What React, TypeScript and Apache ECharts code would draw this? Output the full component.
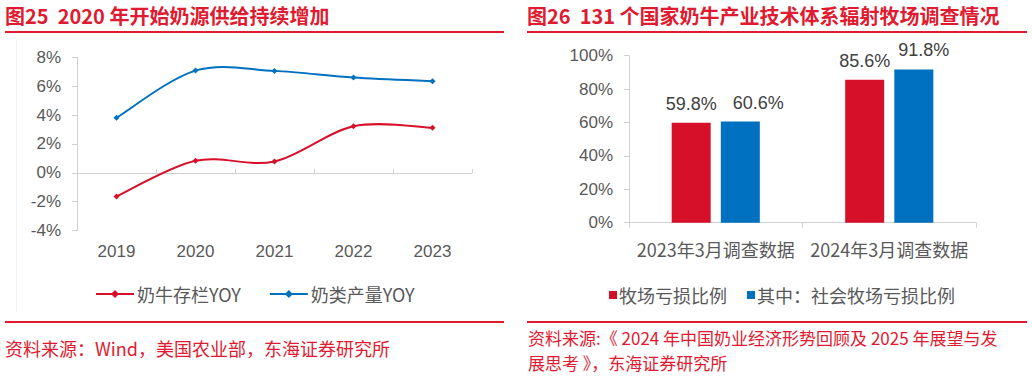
import React, { useEffect, useRef } from "react";
import * as echarts from "echarts";

const years = ["2019", "2020", "2021", "2022", "2023"];
const cattleYoy = [-1.64, 0.83, 0.79, 3.23, 3.12];
const milkYoy = [3.81, 7.08, 7.06, 6.6, 6.35];
const surveyCats = ["2023年3月调查数据", "2024年3月调查数据"];
const lossRatio = [59.8, 85.6];
const socialLossRatio = [60.6, 91.8];

const RED = "#d7102a";
const BLUE = "#0070c0";
const TITLE_RED = "#e01a30";
const GRAY_TEXT = "#595959";
const AXIS_GRAY = "#d0d0d0";
const FONT = "'Liberation Sans', Arial, 'Noto Sans CJK SC', sans-serif";
const CJK = "'Noto Sans CJK SC', 'Liberation Sans', sans-serif";

// Excel-like (Catmull-Rom) smoothed curve through the points, drawn via the axes' scale
function smoothCurve(values: number[], color: string) {
  return (params: any, api: any) => {
    if (params.dataIndex !== 0) return { type: "group", children: [] };
    const p = values.map((v, i) => api.coord([i, v]));
    let d = `M${p[0][0]},${p[0][1]}`;
    for (let i = 0; i < p.length - 1; i++) {
      const p0 = p[i - 1] || p[i];
      const p1 = p[i];
      const p2 = p[i + 1];
      const p3 = p[i + 2] || p[i + 1];
      const c1x = p1[0] + (p2[0] - p0[0]) / 6;
      const c1y = p1[1] + (p2[1] - p0[1]) / 6;
      const c2x = p2[0] - (p3[0] - p1[0]) / 6;
      const c2y = p2[1] - (p3[1] - p1[1]) / 6;
      d += ` C${c1x},${c1y} ${c2x},${c2y} ${p2[0]},${p2[1]}`;
    }
    return {
      type: "path",
      shape: { pathData: d },
      style: { fill: "none", stroke: color, lineWidth: 2 },
      z2: 1,
    };
  };
}

const socialLabelOffsets = [18, 10];

export default function App() {
  const ref = useRef<HTMLDivElement>(null);
  useEffect(() => {
    if (!ref.current) return;
    const chart = echarts.init(ref.current, undefined, { renderer: "svg" });
    const barLabel = {
      show: true,
      position: "top",
      distance: 10,
      color: "#404040",
      fontSize: 18,
      fontFamily: FONT,
      formatter: (p: any) => Number(p.value).toFixed(1) + "%",
    };
    const option: any = {
      animation: false,
      backgroundColor: "#ffffff",
      textStyle: { fontFamily: FONT },
      grid: [
        { left: 77, top: 57.3, width: 395, height: 173.3, containLabel: false },
        { left: 629, top: 55.7, width: 347, height: 167, containLabel: false },
      ],
      xAxis: [
        {
          gridIndex: 0,
          type: "category",
          data: years,
          position: "bottom",
          axisLine: { show: false, onZero: false },
          axisTick: { show: false },
          axisLabel: { color: GRAY_TEXT, fontSize: 17, margin: 12, fontFamily: FONT },
        },
        {
          gridIndex: 0,
          type: "category",
          data: years,
          axisLine: { show: true, onZero: true, lineStyle: { color: AXIS_GRAY, width: 1 } },
          axisTick: { show: true, length: 4, lineStyle: { color: AXIS_GRAY } },
          axisLabel: { show: false },
        },
        {
          gridIndex: 1,
          type: "category",
          data: surveyCats,
          axisLine: { show: true, lineStyle: { color: AXIS_GRAY, width: 1 } },
          axisTick: { show: true, length: 5, lineStyle: { color: AXIS_GRAY } },
          axisLabel: { color: GRAY_TEXT, fontSize: 18, margin: 17, interval: 0, fontFamily: CJK },
        },
      ],
      yAxis: [
        {
          gridIndex: 0,
          type: "value",
          min: -4,
          max: 8,
          interval: 2,
          axisLine: { show: true, lineStyle: { color: AXIS_GRAY } },
          axisTick: { show: true, length: 5, lineStyle: { color: AXIS_GRAY } },
          splitLine: { show: false },
          axisLabel: { color: GRAY_TEXT, fontSize: 17, margin: 16, formatter: "{value}%", fontFamily: FONT },
        },
        {
          gridIndex: 1,
          type: "value",
          min: 0,
          max: 100,
          interval: 20,
          axisLine: { show: true, lineStyle: { color: AXIS_GRAY } },
          axisTick: { show: true, length: 5, lineStyle: { color: AXIS_GRAY } },
          splitLine: { show: false },
          axisLabel: { color: GRAY_TEXT, fontSize: 17, margin: 16, formatter: "{value}%", fontFamily: FONT },
        },
      ],
      legend: [
        {
          left: 90,
          top: 280,
          itemGap: 28,
          itemWidth: 38,
          itemHeight: 10,
          lineStyle: { opacity: 1, width: 2 },
          textStyle: { color: GRAY_TEXT, fontSize: 18, fontFamily: CJK, padding: [0, 0, 0, -2] },
          data: ["奶牛存栏YOY", "奶类产量YOY"],
        },
        {
          left: 604,
          top: 281,
          itemGap: 20,
          itemWidth: 8,
          itemHeight: 8,
          icon: "rect",
          textStyle: { color: GRAY_TEXT, fontSize: 18, fontFamily: CJK, padding: [0, 0, 0, -3] },
          data: ["牧场亏损比例", "其中：社会牧场亏损比例"],
        },
      ],
      series: [
        {
          name: "奶牛存栏YOY-curve",
          type: "custom",
          xAxisIndex: 0,
          yAxisIndex: 0,
          data: cattleYoy.map((v, i) => [i, v]),
          renderItem: smoothCurve(cattleYoy, RED),
          silent: true,
          z: 1,
        },
        {
          name: "奶类产量YOY-curve",
          type: "custom",
          xAxisIndex: 0,
          yAxisIndex: 0,
          data: milkYoy.map((v, i) => [i, v]),
          renderItem: smoothCurve(milkYoy, BLUE),
          silent: true,
          z: 1,
        },
        {
          name: "奶牛存栏YOY",
          type: "line",
          xAxisIndex: 0,
          yAxisIndex: 0,
          data: cattleYoy,
          symbol: "diamond",
          symbolSize: 6,
          lineStyle: { color: RED, width: 2, opacity: 0 },
          itemStyle: { color: RED },
          z: 3,
        },
        {
          name: "奶类产量YOY",
          type: "line",
          xAxisIndex: 0,
          yAxisIndex: 0,
          data: milkYoy,
          symbol: "diamond",
          symbolSize: 6,
          lineStyle: { color: BLUE, width: 2, opacity: 0 },
          itemStyle: { color: BLUE },
          z: 3,
        },
        {
          name: "牧场亏损比例",
          type: "bar",
          xAxisIndex: 2,
          yAxisIndex: 1,
          data: lossRatio,
          barWidth: 39,
          barGap: "26%",
          itemStyle: { color: RED },
          label: barLabel,
        },
        {
          name: "其中：社会牧场亏损比例",
          type: "bar",
          xAxisIndex: 2,
          yAxisIndex: 1,
          data: socialLossRatio.map((v, i) => ({
            value: v,
            label: { offset: [socialLabelOffsets[i], 0] },
          })),
          barWidth: 39,
          itemStyle: { color: BLUE },
          label: barLabel,
        },
      ],
      graphic: [
        {
          type: "text",
          left: 5,
          top: 5,
          style: {
            text: "图25  2020 年开始奶源供给持续增加",
            fill: TITLE_RED,
            font: `bold 20px ${CJK}`,
          },
        },
        {
          type: "text",
          left: 527,
          top: 5,
          style: {
            text: "图26  131 个国家奶牛产业技术体系辐射牧场调查情况",
            fill: TITLE_RED,
            font: `bold 20px ${CJK}`,
          },
        },
        { type: "rect", shape: { x: 5, y: 31, width: 499, height: 2 }, style: { fill: TITLE_RED } },
        { type: "rect", shape: { x: 527, y: 31, width: 500, height: 2 }, style: { fill: TITLE_RED } },
        { type: "rect", shape: { x: 5, y: 321, width: 499, height: 2 }, style: { fill: TITLE_RED } },
        { type: "rect", shape: { x: 527, y: 321, width: 500, height: 2 }, style: { fill: TITLE_RED } },
        { type: "line", shape: { x1: 16.5, y1: 40, x2: 16.5, y2: 312 }, style: { stroke: "#f2f2f2", lineWidth: 1 } },
        {
          type: "text",
          left: 5,
          top: 339,
          style: {
            text: "资料来源：Wind，美国农业部，东海证券研究所",
            fill: TITLE_RED,
            font: `18px ${CJK}`,
          },
        },
        {
          type: "text",
          left: 528,
          top: 325,
          style: {
            text: "资料来源:《 2024 年中国奶业经济形势回顾及 2025 年展望与发\n展思考 》，东海证券研究所",
            fill: TITLE_RED,
            font: `17px ${CJK}`,
            lineHeight: 25,
          },
        },
      ],
    };
    chart.setOption(option);
    return () => chart.dispose();
  }, []);
  return (
    <div
      ref={ref}
      style={{ position: "fixed", left: 0, top: 0, width: 1032, height: 378 }}
    />
  );
}
